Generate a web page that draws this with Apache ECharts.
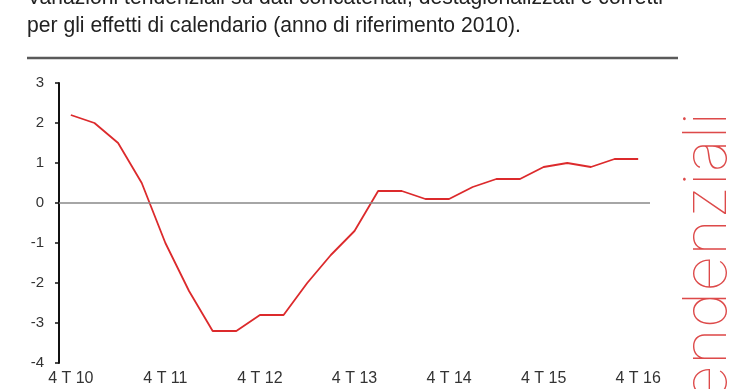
<!DOCTYPE html>
<html><head><meta charset="utf-8">
<script src="https://cdn.jsdelivr.net/npm/echarts@6/dist/echarts.min.js"></script>
<style>html,body{margin:0;padding:0;background:#fff;}#c{width:740px;height:389px;}</style>
</head><body><div id="c"></div>
<script>
const categories = ["4 T 10","1 T 11","2 T 11","3 T 11","4 T 11","1 T 12","2 T 12","3 T 12","4 T 12","1 T 13","2 T 13","3 T 13","4 T 13","1 T 14","2 T 14","3 T 14","4 T 14","1 T 15","2 T 15","3 T 15","4 T 15","1 T 16","2 T 16","3 T 16","4 T 16"];
const values = [2.2,2.0,1.5,0.5,-1.0,-2.2,-3.2,-3.2,-2.8,-2.8,-2.0,-1.3,-0.7,0.3,0.3,0.1,0.1,0.4,0.6,0.6,0.9,1.0,0.9,1.1,1.1];
const titleLine1 = "Variazioni tendenziali su dati concatenati, destagionalizzati e corretti";
const titleLine2 = "per gli effetti di calendario (anno di riferimento 2010).";
const sideText = "tendenziali";
const yMin = -4, yMax = 3, yInterval = 1;

const chart = echarts.init(document.getElementById('c'), null, {renderer: 'canvas'});
chart.setOption({
  animation: false,
  backgroundColor: '#fff',
  grid: {left: 59, right: 90, top: 83, bottom: 26, containLabel: false},
  xAxis: {
    type: 'category', data: categories, boundaryGap: true,
    axisLine: {show: false}, axisTick: {show: false},
    axisLabel: {interval: 3, color: '#333', fontSize: 16, fontFamily: 'Liberation Sans, Arial', margin: 8}
  },
  yAxis: {
    type: 'value', min: yMin, max: yMax, interval: yInterval,
    splitLine: {show: false},
    axisLine: {show: true, lineStyle: {color: '#111', width: 2}},
    axisTick: {show: true, length: 4, lineStyle: {color: '#111', width: 1.5}},
    axisLabel: {color: '#333', fontSize: 15, fontFamily: 'Liberation Sans, Arial', margin: 15}
  },
  series: [{
    type: 'line', data: values, symbol: 'none', smooth: false,
    lineStyle: {color: '#dc2a2c', width: 1.8},
    markLine: {silent: true, symbol: 'none', label: {show: false},
      lineStyle: {color: '#888', width: 1.5, type: 'solid'},
      data: [{yAxis: 0}]}
  }],
  graphic: [
    {type: 'text', x: 27, y: -13, scaleX: 0.96, style: {text: titleLine1, font: '22px "Liberation Sans", Arial', fill: '#222'}},
    {type: 'text', x: 27, y: 14.5, scaleX: 0.96, style: {text: titleLine2, font: '22px "Liberation Sans", Arial', fill: '#222'}},
    {type: 'line', shape: {x1: 27, y1: 58, x2: 678, y2: 58}, style: {stroke: '#5a5a5a', lineWidth: 2.5}},
    {type: 'text', x: 738, y: 112, rotation: Math.PI/2, scaleX: 1.05,
      style: {text: sideText, font: '100 60px Inter, Lato, "Open Sans"', fill: '#dd4a4a', align: 'right', verticalAlign: 'bottom'}}
  ]
});
</script></body></html>
